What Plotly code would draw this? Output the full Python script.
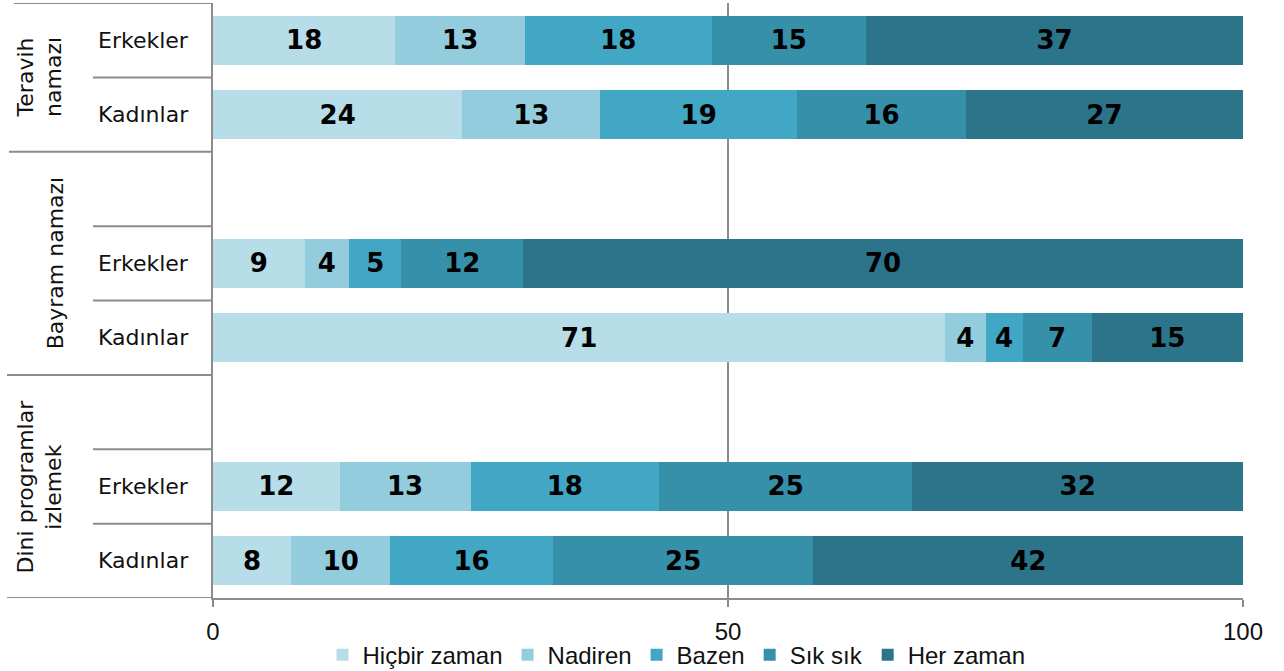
import plotly.graph_objects as go

# ---- data ----
groups = ["Teravih<br>namazı", "Bayram namazı", "Dini programlar<br>izlemek"]
genders = ["Erkekler", "Kadınlar"]
series_names = ["Hiçbir zaman", "Nadiren", "Bazen", "Sık sık", "Her zaman"]
series_colors = ["#B7DDE8", "#93CDDD", "#41A7C5", "#3690AA", "#2B7489"]

# row order: Teravih-E, Teravih-K, Bayram-E, Bayram-K, Dini-E, Dini-K
hicbir_zaman = [17.7, 24.2, 8.9, 71.1, 12.3, 7.6]
nadiren      = [12.6, 13.4, 4.3, 3.9, 12.7, 9.6]
bazen        = [18.1, 19.1, 5.1, 3.6, 18.3, 15.8]
sik_sik      = [15.0, 16.4, 11.8, 6.7, 24.6, 25.3]
her_zaman    = [36.6, 26.9, 69.9, 14.7, 32.1, 41.7]

x_ticks = [0, 50, 100]

series_values = [hicbir_zaman, nadiren, bazen, sik_sik, her_zaman]

# slot positions: an empty slot opens the 2nd and 3rd groups
row_pos = [0, 1, 3, 4, 6, 7]
row_labels = [g for _ in groups for g in genders]
group_spans = [(-0.5, 1.5), (1.5, 4.5), (4.5, 7.5)]

GRID = "#8c8c8c"
fig = go.Figure()
for name, color, vals in zip(series_names, series_colors, series_values):
    fig.add_trace(go.Bar(
        y=row_pos, x=vals, name=name, orientation="h",
        marker=dict(color=color, line=dict(width=0)),
        width=0.66,
        text=vals, texttemplate="%{x:.0f}", textposition="inside",
        insidetextanchor="middle", textangle=0,
        textfont=dict(family="DejaVu Sans", size=26, color="black", weight="bold"),
        hoverinfo="skip",
    ))

PX0, PXW = 213, 1030
def px(p):
    return (p - PX0) / PXW

shapes = []
# group dividers in the label area
for yv, x0 in [(-0.5, 14), (1.5, 9), (4.5, 7), (7.5, 7)]:
    shapes.append(dict(type="line", xref="paper", yref="y", x0=px(x0), x1=0,
                       y0=yv, y1=yv, line=dict(color=GRID, width=2)))
# sub dividers between rows inside a group
for yv in [0.5, 2.5, 3.5, 5.5, 6.5]:
    shapes.append(dict(type="line", xref="paper", yref="y", x0=px(93), x1=0,
                       y0=yv, y1=yv, line=dict(color=GRID, width=2)))

annotations = []
for pos, lab in zip(row_pos, row_labels):
    annotations.append(dict(x=px(143), y=pos, xref="paper", yref="y", text=lab,
                            showarrow=False, xanchor="center", yanchor="middle",
                            font=dict(family="DejaVu Sans", size=22, color="#111")))
group_x = [40, 55, 40]
for g, (a, b), gx in zip(groups, group_spans, group_x):
    annotations.append(dict(x=px(gx), y=(a + b) / 2, xref="paper", yref="y", text=g,
                            showarrow=False, textangle=-90, xanchor="center",
                            yanchor="middle",
                            font=dict(family="DejaVu Sans", size=22, color="#111")))

fig.update_layout(
    width=1284, height=671,
    margin=dict(l=213, r=41, t=3, b=73, autoexpand=False),
    paper_bgcolor="white", plot_bgcolor="white",
    barmode="stack", bargap=0.34,
    showlegend=True,
    legend=dict(orientation="h", x=0.45, xanchor="center", y=-0.096,
                yanchor="middle", traceorder="normal",
                font=dict(family="Liberation Sans", size=24, color="#111"),
                bgcolor="rgba(0,0,0,0)"),
    xaxis=dict(range=[0, 100], tickvals=x_ticks, ticktext=[str(v) for v in x_ticks],
               showgrid=True, gridcolor=GRID, gridwidth=2,
               showline=True, linecolor=GRID, linewidth=2,
               ticks="outside", ticklen=7, tickcolor=GRID, tickwidth=2,
               ticklabelstandoff=4,
               zeroline=False,
               tickfont=dict(family="Liberation Sans", size=24, color="#111")),
    yaxis=dict(range=[7.5, -0.5], showticklabels=False, showgrid=False,
               zeroline=False, showline=True, linecolor=GRID, linewidth=2,
               ticks=""),
    shapes=shapes,
    annotations=annotations,
)

fig.write_html("out.html", config={"displayModeBar": False},
               post_script="document.body.style.margin='0';document.body.style.overflow='hidden';")
